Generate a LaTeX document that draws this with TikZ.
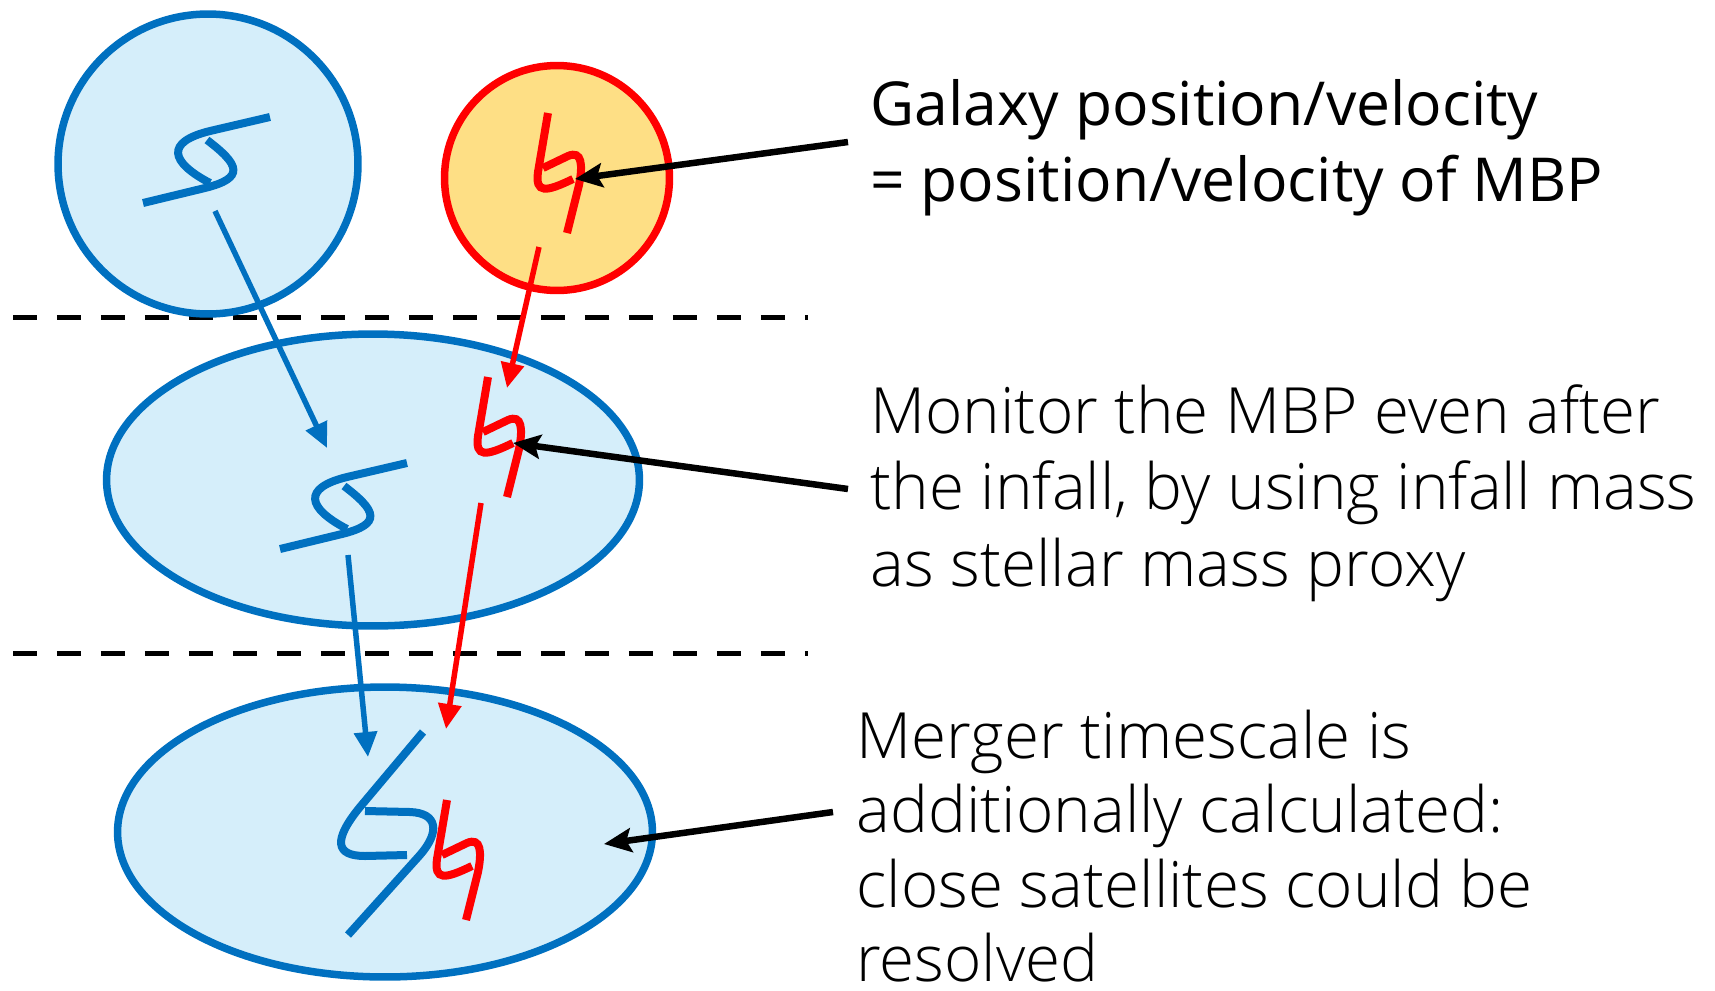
\documentclass[tikz,border=0pt]{standalone}
\usepackage{fontspec}
\setmainfont{Open Sans}
\newfontfamily\lightfont{Open Sans}[UprightFont=* Light]
\usetikzlibrary{arrows.meta,shapes.geometric}
\definecolor{HaloBlue}{RGB}{0,112,192}
\definecolor{HaloFill}{RGB}{213,238,250}
\definecolor{GalaxyFill}{RGB}{254,223,133}
\definecolor{MBPRed}{RGB}{255,0,0}
\tikzset{
  halo/.style={ellipse,draw=HaloBlue,fill=HaloFill,line width=0.15cm,inner sep=0pt},
  galaxy/.style={circle,draw=MBPRed,fill=GalaxyFill,line width=0.15cm,inner sep=0pt},
  snapline/.style={dash pattern=on 0.48cm off 0.4cm,line width=0.1cm},
  track/.style={line width=0.16cm,draw=HaloBlue},
  mbptrack/.style={line width=0.16cm,draw=MBPRed},
  bluestep/.style={-{Triangle[length=0.5cm,width=0.45cm]},line width=0.11cm,draw=HaloBlue,fill=HaloBlue},
  redstep/.style={-{Triangle[length=0.5cm,width=0.45cm]},line width=0.11cm,draw=MBPRed,fill=MBPRed},
  pointer/.style={-{Stealth[length=0.55cm,width=0.48cm,inset=0.1cm]},line width=0.13cm},
  note/.style={align=left,anchor=west,inner sep=0pt,font=\fontsize{34.5}{43}\selectfont},
  lightnote/.style={note,font=\fontsize{36.3}{43.5}\selectfont\lightfont}
}

\begin{document}
\begin{tikzpicture}[x=0.02cm,y=-0.02cm]
  \useasboundingbox (0,0) rectangle (1715,991);
  % snapshots
  \draw[snapline] (13,317) -- (808,317);
  \draw[snapline] (13,653) -- (808,653);
  \node[halo,minimum width=6.0cm,minimum height=6.0cm] (haloA) at (208,164) {};
  \node[galaxy,minimum size=4.5cm] (galA) at (557,178) {};
  \node[halo,minimum width=10.66cm,minimum height=5.84cm] (haloB) at (373,480) {};
  \node[halo,minimum width=10.7cm,minimum height=5.8cm] (haloC) at (385,832) {};
  % particle tracks
  \foreach \dx/\dy in {0/0,137/346}{
    \draw[track] ([shift={(\dx,\dy)}]270,117) -- ([shift={(\dx,\dy)}]210,131)
      .. controls ([shift={(\dx,\dy)}]165,142) and ([shift={(\dx,\dy)}]170,162) .. ([shift={(\dx,\dy)}]210,183);
    \draw[track] ([shift={(\dx,\dy)}]207,140)
      .. controls ([shift={(\dx,\dy)}]240,165) and ([shift={(\dx,\dy)}]245,178) .. ([shift={(\dx,\dy)}]205,188)
      -- ([shift={(\dx,\dy)}]143,203);
  }
  \draw[track] (423,732) -- (360,807) .. controls (333,840) and (335,856) .. (365,856) -- (407,855);
  \draw[track] (365,811) -- (410,812) .. controls (438,813) and (440,832) .. (420,855) -- (348,935);
  \foreach \dx/\dy in {0/0,-60/264,-101/687}{
    \draw[mbptrack] ([shift={(\dx,\dy)}]548,113) -- ([shift={(\dx,\dy)}]538,172)
      .. controls ([shift={(\dx,\dy)}]535,194) and ([shift={(\dx,\dy)}]546,192) .. ([shift={(\dx,\dy)}]573,179);
    \draw[mbptrack] ([shift={(\dx,\dy)}]543,168) -- ([shift={(\dx,\dy)}]568,156)
      .. controls ([shift={(\dx,\dy)}]582,150) and ([shift={(\dx,\dy)}]583,165) .. ([shift={(\dx,\dy)}]579,185)
      -- ([shift={(\dx,\dy)}]567,233);
  }
  % arrow ends
  \coordinate (blueA1) at (215,211);
  \coordinate (blueB1) at (327,448);
  \coordinate (blueA2) at (348,555);
  \coordinate (blueB2) at (368,757);
  \coordinate (redA1) at (539,247);
  \coordinate (redB1) at (507,388);
  \coordinate (redA2) at (481,503);
  \coordinate (redB2) at (446,729);
  \coordinate (mbpA) at (575,179);
  \coordinate (mbpB) at (513,443);
  \coordinate (mergeC) at (604,844);
  \draw[bluestep] (blueA1) -- (blueB1);
  \draw[bluestep] (blueA2) -- (blueB2);
  \draw[redstep] (redA1) -- (redB1);
  \draw[redstep] (redA2) -- (redB2);
  % notes
  \node[note] (noteA) at (870,148) {Galaxy position/velocity\\= position/velocity of MBP};
  \node[lightnote] (noteB) at (870,493)
    {Monitor the MBP even after\\the infall, by using infall mass\\as stellar mass proxy};
  \node[lightnote,font=\fontsize{36.3}{42.3}\selectfont\lightfont] (noteC) at (856,846)
    {Merger timescale is\\additionally calculated:\\close satellites could be\\resolved};
  \coordinate (tailA) at (848,142);
  \coordinate (tailB) at (848,489);
  \coordinate (tailC) at (833,812);
  \draw[pointer] (tailA) -- (mbpA);
  \draw[pointer] (tailB) -- (mbpB);
  \draw[pointer] (tailC) -- (mergeC);
\end{tikzpicture}
\end{document}
